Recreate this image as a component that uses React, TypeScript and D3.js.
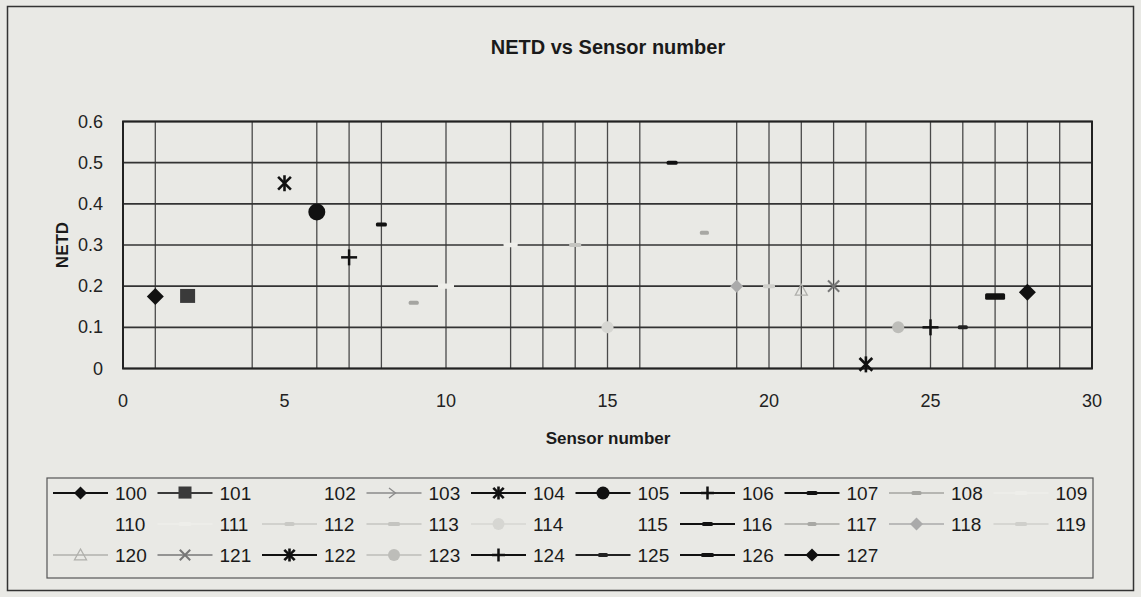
import React from "react";
import * as d3 from "d3";

const seriesNames = ["100","101","102","103","104","105","106","107","108","109","110","111","112","113","114","115","116","117","118","119","120","121","122","123","124","125","126","127"];
const sensorNumbers = [1,2,3,4,5,6,7,8,9,10,11,12,13,14,15,16,17,18,19,20,21,22,23,24,25,26,27,28];
const netdValues: (number | null)[] = [0.175,0.175,null,null,0.45,0.38,0.27,0.35,0.16,0.2,null,0.3,null,0.3,0.1,null,0.5,0.33,0.2,0.2,0.19,0.2,0.01,0.1,0.1,0.1,0.175,0.185];
const markerShapes = ["diamond","square","none","arrow","asterisk","circle","plus","dash","dash","dash","none","dash","dash","dash","circle","none","dash","dash","diamond","dash","triangle","x","asterisk","circle","plus","dash","dash","diamond"];
const markerSizes = [17,15,0,10,16,17,16,11,10,16,0,14,10,12,12,0,11,9,13,12,12,14,16,12,16,10,20,17];
const seriesColors = ["#111","#3a3a3a","#e9e9e5","#8a8a8a","#111","#111","#111","#111","#a5a5a1","#eeeeea","#e9e9e5","#eeeeea","#c9c9c5","#c4c4c0","#d6d6d2","#e9e9e5","#111","#a8a8a4","#aaa","#cfcfcb","#b0b0ac","#777","#111","#bdbdb9","#111","#222","#111","#111"];
const xTicks = [0,5,10,15,20,25,30];
const yTicks = [0,0.1,0.2,0.3,0.4,0.5,0.6];
const yTickLabels = ["0","0.1","0.2","0.3","0.4","0.5","0.6"];
const visibleGridX = [1,4,6,7,8,10,12,13,14,15,16,19,20,21,22,23,25,26,27,28,29];

const W = 1141, H = 597;
const FONT = "'Liberation Sans', Arial, sans-serif";
const BG = "#e9e9e5";

function Marker({ shape, color, x, y, s }: { shape: string; color: string; x: number; y: number; s: number }) {
  const h = s / 2;
  switch (shape) {
    case "diamond":
      return <polygon points={`${x},${y - h} ${x + h},${y} ${x},${y + h} ${x - h},${y}`} fill={color} />;
    case "square":
      return <rect x={x - h} y={y - h} width={s} height={s * 0.93} fill={color} />;
    case "circle":
      return <circle cx={x} cy={y} r={h} fill={color} />;
    case "plus":
      return (
        <g stroke={color} strokeWidth={2.5}>
          <line x1={x - h} x2={x + h} y1={y} y2={y} />
          <line x1={x} x2={x} y1={y - h} y2={y + h} />
        </g>
      );
    case "asterisk": {
      const d = h * 0.8;
      return (
        <g stroke={color} strokeWidth={2.6}>
          <line x1={x} x2={x} y1={y - h} y2={y + h} />
          <line x1={x - d} x2={x + d} y1={y - d} y2={y + d} />
          <line x1={x - d} x2={x + d} y1={y + d} y2={y - d} />
        </g>
      );
    }
    case "x": {
      const d = h * 0.8;
      return (
        <g stroke={color} strokeWidth={2}>
          <line x1={x - d} x2={x + d} y1={y - d} y2={y + d} />
          <line x1={x - d} x2={x + d} y1={y + d} y2={y - d} />
        </g>
      );
    }
    case "triangle":
      return <polygon points={`${x},${y - h} ${x + h},${y + h * 0.8} ${x - h},${y + h * 0.8}`} fill="none" stroke={color} strokeWidth={1.3} />;
    case "arrow":
      return <polyline points={`${x - h},${y - h} ${x + h * 0.3},${y} ${x - h},${y + h}`} fill="none" stroke={color} strokeWidth={1.3} />;
    case "dash":
      return <rect x={x - h} y={y - Math.max(2, s * 0.16)} width={s} height={Math.max(4, s * 0.32)} rx={1.5} fill={color} />;
    default:
      return null;
  }
}

export default function App() {
  const x = d3.scaleLinear().domain([0, 30]).range([123, 1092]);
  const y = d3.scaleLinear().domain([0, 0.6]).range([368.5, 121.5]);
  const [x0, x1] = x.range();
  const [yb, yt] = y.range();

  const legendLeft = 47, legendRight = 1093, legendTop = 478, legendBottom = 578;
  const colPitch = 104.5, lineLen = 55, rowPitch = 31, firstRowY = 493;

  return (
    <svg width={W} height={H} style={{ position: "absolute", left: 0, top: 0, background: BG }} fontFamily={FONT}>
      <rect x={0} y={0} width={W} height={H} fill={BG} />
      <rect x={7.5} y={6.5} width={1126} height={584} fill="none" stroke="#333" strokeWidth={1.5} />

      <text x={608} y={54} textAnchor="middle" fontSize={20} fontWeight="bold" fill="#1a1a1a">NETD vs Sensor number</text>

      {/* gridlines */}
      {visibleGridX.map((v) => (
        <line key={"gx" + v} x1={x(v)} x2={x(v)} y1={yt} y2={yb} stroke="#4a4a4a" strokeWidth={1.3} />
      ))}
      {yTicks.map((v) => (
        <line key={"gy" + v} x1={x0} x2={x1} y1={y(v)} y2={y(v)} stroke="#333" strokeWidth={1.7} />
      ))}
      <rect x={x0} y={yt} width={x1 - x0} height={yb - yt} fill="none" stroke="#222" strokeWidth={2} />

      {/* tick labels */}
      {xTicks.map((v) => (
        <text key={"xt" + v} x={x(v)} y={407} textAnchor="middle" fontSize={18} fill="#222">{v}</text>
      ))}
      {yTicks.map((v, i) => (
        <text key={"yt" + v} x={103} y={y(v) + 6} textAnchor="end" fontSize={18} fill="#222">{yTickLabels[i]}</text>
      ))}

      <text x={608} y={444} textAnchor="middle" fontSize={17} fontWeight="bold" fill="#1a1a1a">Sensor number</text>
      <text transform={`translate(68,${(yt + yb) / 2}) rotate(-90)`} textAnchor="middle" fontSize={17} fontWeight="bold" fill="#1a1a1a">NETD</text>

      {/* data points */}
      {seriesNames.map((name, i) => {
        const v = netdValues[i];
        if (v === null) return null;
        return <Marker key={"m" + name} shape={markerShapes[i]} color={seriesColors[i]} x={x(sensorNumbers[i])} y={y(v)} s={markerSizes[i]} />;
      })}

      {/* legend */}
      <rect x={legendLeft} y={legendTop} width={legendRight - legendLeft} height={legendBottom - legendTop} fill="none" stroke="#555" strokeWidth={1.2} />
      {seriesNames.map((name, i) => {
        const col = i % 10, row = Math.floor(i / 10);
        const lx = 53 + col * colPitch;
        const ly = firstRowY + row * rowPitch;
        const c = seriesColors[i];
        const isDark = c === "#111" || c === "#222" || c === "#3a3a3a";
        return (
          <g key={"lg" + name}>
            <line x1={lx} x2={lx + lineLen} y1={ly} y2={ly} stroke={c} strokeWidth={isDark ? 2.2 : 1.5} />
            <Marker shape={markerShapes[i]} color={c} x={lx + lineLen / 2} y={ly} s={Math.min(markerSizes[i], 13)} />
            <text x={lx + lineLen + 7} y={ly + 7} fontSize={19} fill="#1a1a1a">{name}</text>
          </g>
        );
      })}
    </svg>
  );
}
